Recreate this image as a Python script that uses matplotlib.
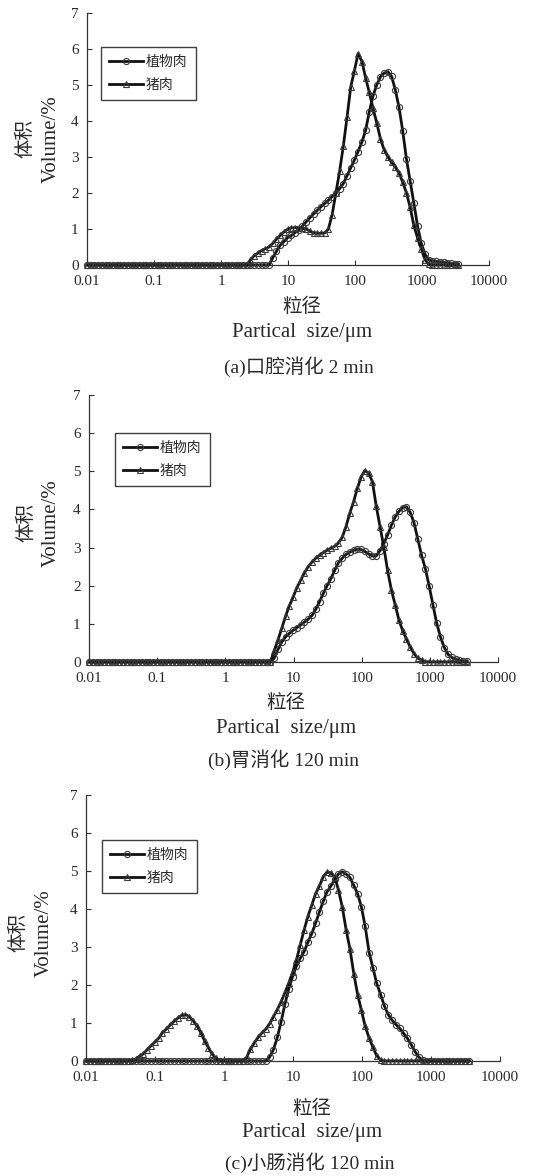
import matplotlib
matplotlib.use("Agg")
import matplotlib.pyplot as plt
from matplotlib.ticker import FixedLocator, NullLocator

# Particle size classes (um)
sizes = [0.0100, 0.0114, 0.0129, 0.0147, 0.0167, 0.0189, 0.0215, 0.0244, 0.0278, 0.0315,
         0.0358, 0.0407, 0.0463, 0.0526, 0.0597, 0.0679, 0.0771, 0.0876, 0.0995, 0.113,
         0.128, 0.146, 0.166, 0.188, 0.214, 0.243, 0.276, 0.314, 0.357, 0.405,
         0.460, 0.523, 0.594, 0.675, 0.767, 0.872, 0.991, 1.13, 1.28, 1.45,
         1.65, 1.88, 2.13, 2.42, 2.75, 3.12, 3.55, 4.03, 4.58, 5.21,
         5.92, 6.72, 7.64, 8.68, 9.86, 11.2, 12.7, 14.5, 16.4, 18.7,
         21.2, 24.1, 27.4, 31.1, 35.3, 40.1, 45.6, 51.8, 58.9, 66.9,
         76.0, 86.4, 98.1, 111, 127, 144, 163, 186, 211, 240,
         272, 310, 352, 400, 454, 516, 586, 666, 756, 859,
         976, 1110, 1260, 1430, 1630, 1850, 2100, 2390, 2710, 3080,
         3500]

# (a) oral 2 min
a_plant = [0.0] * 50 + [
    0.2, 0.38, 0.55, 0.65, 0.76, 0.82, 0.9, 0.97, 1.08, 1.2,
    1.31, 1.42, 1.52, 1.62, 1.71, 1.8, 1.9, 2.0, 2.12, 2.26,
    2.48, 2.7, 2.92, 3.15, 3.42, 3.74, 4.25, 4.7, 5.0, 5.23,
    5.33, 5.37, 5.24, 4.86, 4.38, 3.72, 2.94, 2.33, 1.72, 1.08,
    0.6, 0.3, 0.15, 0.11, 0.1, 0.09, 0.08, 0.06, 0.05, 0.03, 0.02]
a_pork = [0.0] * 44 + [
    0.14, 0.26, 0.33, 0.4, 0.45, 0.5,
    0.6, 0.72, 0.82, 0.92, 0.99, 1.03, 1.04, 1.04, 1.02, 1.0,
    0.94, 0.89, 0.88, 0.88, 0.89, 1.0, 1.4, 2.0, 2.6, 3.3,
    4.1, 4.95, 5.4, 5.87, 5.65, 5.2, 4.8, 4.35, 3.95, 3.5,
    3.2, 3.0, 2.85, 2.72, 2.55, 2.3, 2.0, 1.6, 1.1, 0.75,
    0.45, 0.15, 0.02] + [0.0] * 8

# (b) gastric 120 min
b_plant = [0.0] * 49 + [
    0.1,
    0.33, 0.52, 0.66, 0.75, 0.83, 0.9, 0.97, 1.05, 1.12, 1.22,
    1.38, 1.58, 1.8, 2.0, 2.18, 2.4, 2.6, 2.72, 2.82, 2.88,
    2.93, 2.96, 2.95, 2.9, 2.83, 2.78, 2.78, 2.92, 3.1, 3.33,
    3.58, 3.8, 3.95, 4.05, 4.07, 3.92, 3.65, 3.22, 2.8, 2.45,
    2.0, 1.5, 1.02, 0.66, 0.38, 0.2, 0.12, 0.08, 0.05, 0.03, 0.02]
b_pork = [0.0] * 49 + [
    0.3,
    0.58, 0.88, 1.2, 1.47, 1.7, 1.95, 2.14, 2.34, 2.5, 2.62,
    2.72, 2.8, 2.87, 2.93, 2.98, 3.03, 3.12, 3.27, 3.55, 3.9,
    4.2, 4.55, 4.85, 5.02, 4.95, 4.72, 4.1, 3.55, 3.02, 2.4,
    1.9, 1.5, 1.1, 0.82, 0.6, 0.39, 0.22, 0.1, 0.05, 0.01] + [0.0] * 11

# (c) intestinal 120 min
c_plant = [0.0] * 48 + [
    0.1, 0.3,
    0.62, 1.03, 1.5, 1.9, 2.22, 2.5, 2.7, 2.88, 3.12, 3.35,
    3.62, 3.92, 4.2, 4.45, 4.6, 4.78, 4.92, 4.98, 4.92, 4.83,
    4.62, 4.4, 4.05, 3.55, 2.85, 2.45, 2.05, 1.75, 1.45, 1.22,
    1.08, 0.96, 0.86, 0.73, 0.6, 0.43, 0.25, 0.1, 0.02] + [0.0] * 12
c_pork = [0.0] * 12 + [
    0.02, 0.05, 0.13, 0.19, 0.3, 0.4, 0.5, 0.6,
    0.75, 0.84, 0.95, 1.04, 1.13, 1.2, 1.22, 1.17, 1.06, 0.93,
    0.75, 0.53, 0.35, 0.18, 0.07, 0.01] + [0.0] * 6 + [
    0.1, 0.31, 0.48, 0.62, 0.74, 0.84, 0.98, 1.17,
    1.35, 1.56, 1.8, 2.05, 2.33, 2.65, 3.05, 3.45, 3.8, 4.1,
    4.4, 4.6, 4.85, 4.97, 4.95, 4.85, 4.5, 4.05, 3.45, 2.95,
    2.3, 1.75, 1.33, 0.92, 0.6, 0.36, 0.14, 0.03] + [0.0] * 23

series_labels = ["植物肉", "猪肉"]
xticks = [0.01, 0.1, 1, 10, 100, 1000, 10000]
xtick_labels = ["0.01", "0.1", "1", "10", "100", "1000", "10000"]
yticks = [0, 1, 2, 3, 4, 5, 6, 7]
captions = ["(a)口腔消化 2 min", "(b)胃消化 120 min", "(c)小肠消化 120 min"]

W, H = 533, 1176
fig = plt.figure(figsize=(W / 100, H / 100), dpi=100)

SERIF = "Liberation Serif"
CJK = "Noto Sans CJK SC"
TXT = "#2a2a2a"

# panel geometry in pixels: left, right, top, bottom
panels = [
    dict(box=(87, 489, 13, 265), data=(a_plant, a_pork), leg=(101, 47),
         ylab=(25, 51, 139), xl=(302, 306, 333, 367)),
    dict(box=(89, 498, 395, 662), data=(b_plant, b_pork), leg=(115, 433),
         ylab=(26, 51, 523), xl=(286, 703, 728, 760)),
    dict(box=(86, 500, 795, 1061), data=(c_plant, c_pork), leg=(102, 840),
         ylab=(18, 44, 933), xl=(312, 1108, 1133, 1163)),
]

for k, p in enumerate(panels):
    l, r, t, b = p["box"]
    ax = fig.add_axes([l / W, 1 - b / H, (r - l) / W, (b - t) / H])
    plant, pork = p["data"]
    ax.plot(sizes, plant, color="#111111", lw=2.0, marker="o", ms=4.4,
            mfc="none", mec="#3a3a3a", mew=0.8, label=series_labels[0], zorder=3)
    ax.plot(sizes, pork, color="#111111", lw=2.0, marker="^", ms=4.2,
            mfc="none", mec="#3a3a3a", mew=0.8, label=series_labels[1], zorder=3)
    ax.set_xscale("log")
    ax.set_xlim(0.01, 10000)
    ax.set_ylim(0, 7)
    ax.xaxis.set_major_locator(FixedLocator(xticks))
    ax.xaxis.set_minor_locator(NullLocator())
    ax.set_xticklabels(xtick_labels)
    ax.set_yticks(yticks)
    ax.set_yticklabels([str(v) for v in yticks])
    for s in ("top", "right"):
        ax.spines[s].set_visible(False)
    for s in ("left", "bottom"):
        ax.spines[s].set_color("#333333")
        ax.spines[s].set_linewidth(0.9)
    ax.tick_params(axis="both", direction="in", length=3.5, width=0.8,
                   color="#333333", labelcolor=TXT, labelsize=11)
    ax.tick_params(axis="x", pad=7)
    ax.tick_params(axis="y", pad=6)
    for lab in ax.get_xticklabels() + ax.get_yticklabels():
        lab.set_fontfamily(SERIF)
    for ln in ax.lines:
        ln.set_clip_on(False)

    lx, ly = p["leg"]
    bx = (lx - l) / (r - l)
    by = 1 - (ly - t) / (b - t)
    leg = ax.legend(loc="upper left", bbox_to_anchor=(bx, by), borderaxespad=0,
                    frameon=True, fancybox=False, edgecolor="#111111",
                    numpoints=1, handlelength=2.4, handletextpad=0.25,
                    borderpad=0.6, labelspacing=0.6,
                    prop={"family": CJK, "size": 10})
    leg.get_frame().set_linewidth(1.0)
    for txt in leg.get_texts():
        txt.set_color(TXT)

    yx1, yx2, yy = p["ylab"]
    fig.text(yx1 / W, 1 - yy / H, "体积", rotation=90, ha="center", va="center",
             family=CJK, fontsize=14, color=TXT)
    fig.text(yx2 / W, 1 - yy / H, "Volume/%", rotation=90, ha="center", va="center",
             family=SERIF, fontsize=15, color=TXT)
    cx, y1, y2, y3 = p["xl"]
    fig.text(cx / W, 1 - y1 / H, "粒径", ha="center", va="center",
             family=CJK, fontsize=14, color=TXT)
    fig.text(cx / W, 1 - y2 / H, "Partical  size/μm", ha="center", va="center",
             family=SERIF, fontsize=15, color=TXT)
    fig.text(cx / W - 0.005, 1 - y3 / H, captions[k], ha="center", va="center",
             family=[SERIF, CJK], fontsize=14, color=TXT)

fig.savefig("out.png", dpi=100, facecolor="white")
